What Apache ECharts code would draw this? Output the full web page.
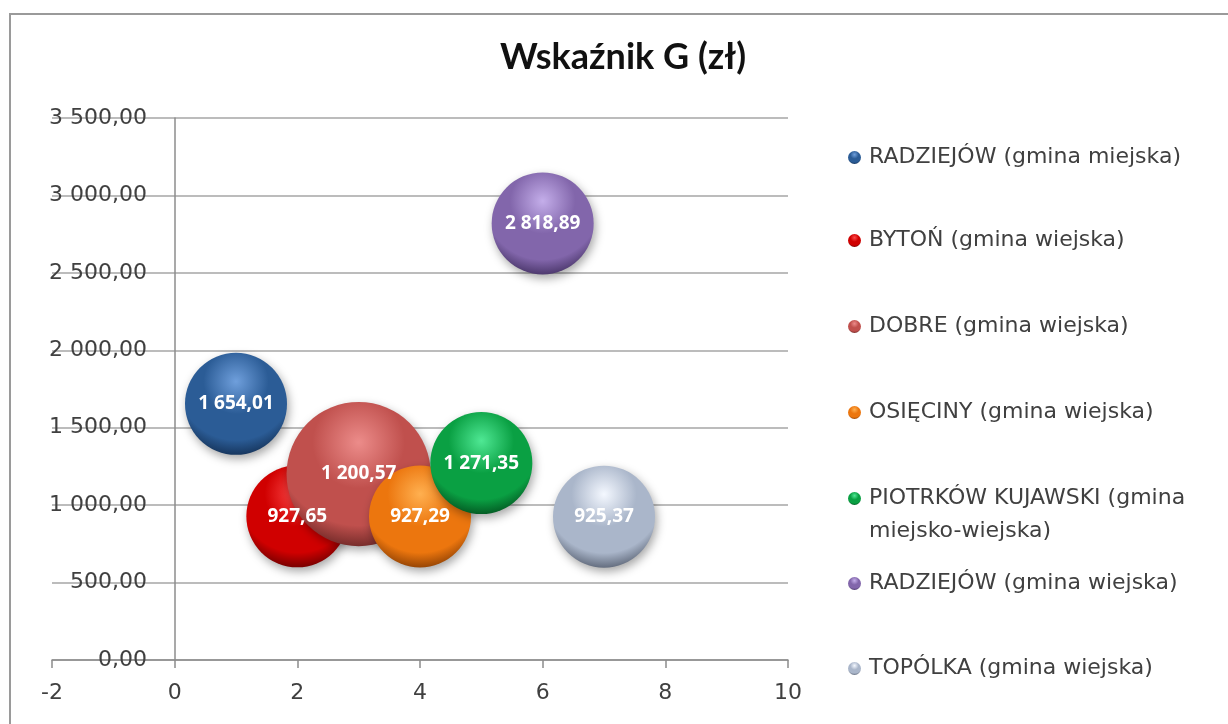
<!DOCTYPE html>
<html>
<head>
<meta charset="utf-8">
<script src="https://cdn.jsdelivr.net/npm/echarts@6/dist/echarts.min.js"></script>
<style>
  html, body { margin: 0; padding: 0; background: #fff; }
  #chart { width: 1228px; height: 724px; }
</style>
</head>
<body>
<div id="chart"></div>
<script>
// dane wykresu
const names = [
  'RADZIEJÓW (gmina miejska)',
  'BYTOŃ (gmina wiejska)',
  'DOBRE (gmina wiejska)',
  'OSIĘCINY (gmina wiejska)',
  'PIOTRKÓW KUJAWSKI (gmina miejsko-wiejska)',
  'RADZIEJÓW (gmina wiejska)',
  'TOPÓLKA (gmina wiejska)'
]
const xPos = [1, 2, 3, 4, 5, 6, 7]
const values = [1654.01, 927.65, 1200.57, 927.29, 1271.35, 2818.89, 925.37]
const bubbleSize = [1, 1, 2, 1, 1, 1, 1]

// kolory kul: [blask, baza, cień]
const palette = [
  ['#6f9fdc', '#2b5c96', '#0c2240'],
  ['#ff4a4a', '#d00000', '#4a0000'],
  ['#ec8c8a', '#c0504d', '#501a19'],
  ['#ffb050', '#ec760e', '#6a2c00'],
  ['#4fe894', '#0aa043', '#003814'],
  ['#c4aeea', '#8266ab', '#30204c'],
  ['#f4f8ff', '#aab6ca', '#3e4656']
]

const FONT = '"Open Sans", "DejaVu Sans", sans-serif'
const AXFONT = '"DejaVu Sans", sans-serif'

const pl = (v) => {
  const [i, d] = v.toFixed(2).split('.')
  return i.replace(/\B(?=(\d{3})+(?!\d))/g, ' ') + ',' + d
}

const sphere = (c) => ({
  type: 'radial', x: 0.5, y: 0.28, r: 0.8,
  colorStops: [
    { offset: 0, color: c[0] },
    { offset: 0.4, color: c[1] },
    { offset: 0.72, color: c[1] },
    { offset: 1, color: c[2] }
  ]
})

const legendCenters = [156, 239, 325, 411, 497, 582, 667]

const myChart = echarts.init(document.getElementById('chart'))

const option = {
  backgroundColor: '#fff',
  animation: false,
  title: {
    text: 'Wskaźnik G (zł)',
    left: 500, top: 39, padding: 0,
    textStyle: { fontFamily: 'Lato, sans-serif', fontWeight: 'bold', fontSize: 36, color: '#111' }
  },
  graphic: [{
    type: 'rect', silent: true,
    shape: { x: 10, y: 14, width: 1260, height: 760 },
    style: { fill: 'none', stroke: '#9a9a9a', lineWidth: 2 }
  }],
  grid: { left: 52, right: 440, top: 118, bottom: 64, outerBoundsMode: 'none' },
  xAxis: {
    type: 'value', min: -2, max: 10, interval: 2,
    axisLine: { show: true, lineStyle: { color: '#8c8c8c', width: 1.5 } },
    axisTick: { show: true, inside: false, length: 8, lineStyle: { color: '#8c8c8c', width: 1.5 } },
    axisLabel: { margin: 22, color: '#404040', fontFamily: AXFONT, fontSize: 22 },
    splitLine: { show: false }
  },
  yAxis: {
    type: 'value', min: 0, max: 3500, interval: 500,
    axisLine: { show: true, onZero: true, lineStyle: { color: '#8c8c8c', width: 1.5 } },
    axisTick: { show: false },
    axisLabel: { margin: -95, color: '#404040', fontFamily: AXFONT, fontSize: 22, formatter: (v) => pl(v) },
    splitLine: { show: true, lineStyle: { color: '#a6a6a6', width: 1.5 } }
  },
  legend: names.map((n, i) => ({
    data: [n],
    orient: 'vertical',
    left: 848,
    top: i === 4 ? legendCenters[i] - 48 : legendCenters[i] - 15,
    padding: 0,
    icon: 'circle',
    itemWidth: 13, itemHeight: 13, itemGap: 0,
    // pusty pierwszy wiersz, żeby znacznik stał przy pierwszej linii tekstu
    formatter: i === 4 ? '\nPIOTRKÓW KUJAWSKI (gmina\nmiejsko-wiejska)' : '{name}',
    textStyle: {
      fontFamily: AXFONT, fontSize: 22, color: '#404040', lineHeight: 33,
      padding: [0, 0, 0, 3]
    }
  })),
  series: names.map((n, i) => ({
    name: n,
    type: 'scatter',
    data: [[xPos[i], values[i], bubbleSize[i]]],
    symbolSize: (d) => Math.sqrt(d[2]) * 102,
    itemStyle: {
      color: sphere(palette[i]), opacity: 1,
      shadowBlur: 10, shadowColor: 'rgba(0,0,0,0.35)', shadowOffsetX: 2, shadowOffsetY: 4
    },
    label: {
      show: true, position: 'inside',
      formatter: (p) => pl(p.value[1]),
      color: '#fff', fontFamily: FONT, fontWeight: 'bold', fontSize: 19
    },
    emphasis: { disabled: true }
  }))
}

myChart.setOption(option)
</script>
</body>
</html>
